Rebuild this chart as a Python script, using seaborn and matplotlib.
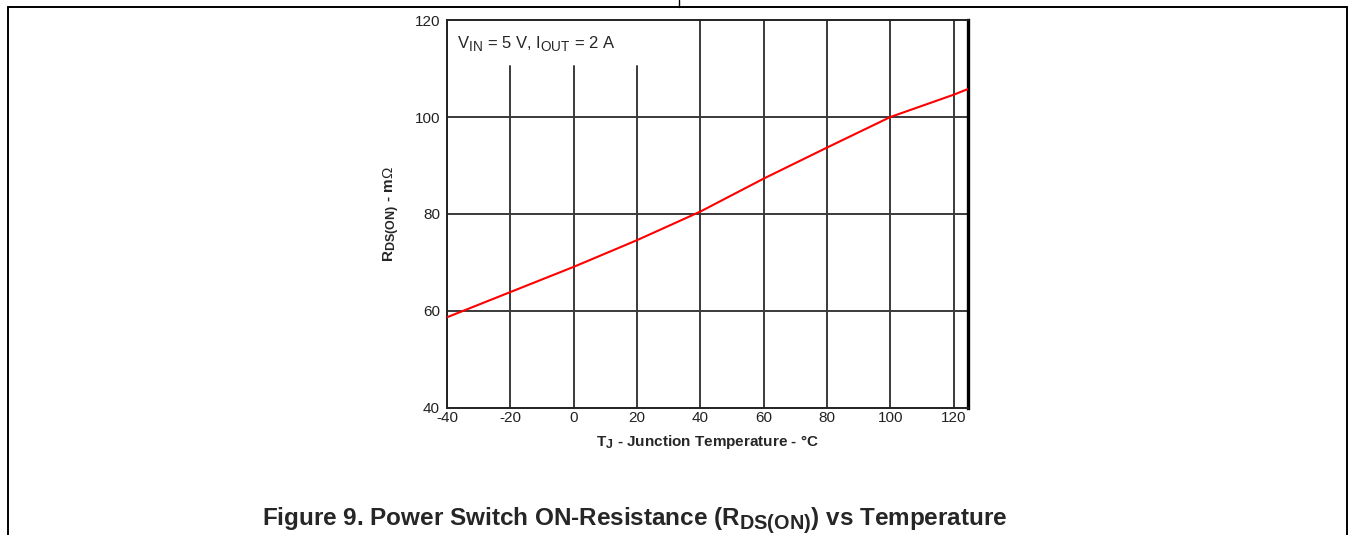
import matplotlib
matplotlib.use('Agg')
import matplotlib.pyplot as plt
import matplotlib._mathtext as mathtext_impl
from matplotlib.lines import Line2D
import seaborn as sns
import pandas as pd

# valori
temp_c = [-40, -35, -20, 0, 20, 40, 60, 80, 100, 120, 125]
rds_on = [58.7, 60.0, 63.9, 69.1, 74.6, 80.5, 87.3, 93.7, 100.0, 104.6, 105.9]
x_ticks = [-40, -20, 0, 20, 40, 60, 80, 100, 120]
y_ticks = [40, 60, 80, 100, 120]

sns.set_theme(style='white')
plt.rcParams['font.family'] = ['Liberation Sans', 'DejaVu Sans']
plt.rcParams['mathtext.fontset'] = 'custom'
plt.rcParams['mathtext.rm'] = 'Liberation Sans'
plt.rcParams['mathtext.bf'] = 'Liberation Sans:bold'
plt.rcParams['axes.unicode_minus'] = False
# indicii din original sunt aproape de marimea textului normal
mathtext_impl.SHRINK_FACTOR = 0.82

df = pd.DataFrame({'T': temp_c, 'R': rds_on})

fig = plt.figure(figsize=(13.54, 5.35), dpi=100)
ax = fig.add_axes([0.3301, 0.2374, 0.3848, 0.7252])

# grila: liniile verticale din stanga sunt ascunse sub text
for t in x_ticks:
    ymax = 0.881 if -30 < t < 30 else 1.0
    ax.axvline(t, ymin=0, ymax=ymax, color='#3a3a3a', lw=1.4, zorder=1)
for v in y_ticks[1:-1]:
    ax.axhline(v, color='#3a3a3a', lw=1.4, zorder=1)

sns.lineplot(data=df, x='T', y='R', color='#ff0000', lw=1.5, ax=ax, zorder=3)

ax.set_xlim(-40, 124.5)
ax.set_ylim(40, 120)
ax.set_xticks(x_ticks)
ax.set_yticks(y_ticks)
ax.tick_params(length=0, labelsize=11, colors='#222222', pad=2)
ax.tick_params(axis='y', pad=5)

for s in ['left', 'bottom', 'top']:
    ax.spines[s].set_color('#222222')
    ax.spines[s].set_linewidth(1.4)
ax.spines['right'].set_color('black')
ax.spines['right'].set_linewidth(2.4)

ax.set_xlabel(r'T$_\mathbf{J}$ - Junction Temperature - °C', fontsize=11,
              fontweight='bold', labelpad=6)
ax.set_ylabel(r'R$_\mathbf{DS(ON)}$ - m$\Omega$', fontsize=11,
              fontweight='bold', labelpad=9)

ax.text(0.02, 0.94, r'V$_\mathrm{IN}$ = 5 V, I$_\mathrm{OUT}$ = 2 A',
        transform=ax.transAxes, fontsize=12, va='center', ha='left')

fig.text(0.469, 1 - 521 / 535, r'Figure 9. Power Switch ON-Resistance (R$_\mathbf{DS(ON)}$) vs Temperature',
         ha='center', va='center', fontsize=17.5, fontweight='bold')

# chenarul paginii
W, H = 1354, 535
def fline(x0, y0, x1, y1, lw=1.4):
    fig.add_artist(Line2D([x0 / W, x1 / W], [1 - y0 / H, 1 - y1 / H],
                          transform=fig.transFigure, color='black', lw=lw))

fline(8, 7, 1347, 7)
fline(8, 7, 8, 535)
fline(1347, 7, 1347, 535)
fline(679, 0, 679, 7, lw=1.0)

fig.savefig('out.png', dpi=100)
